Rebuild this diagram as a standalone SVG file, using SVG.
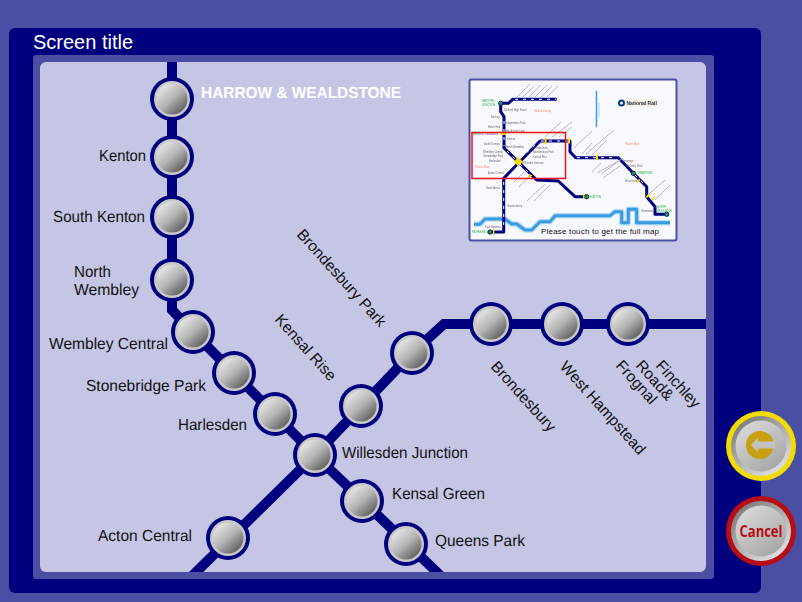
<svg xmlns="http://www.w3.org/2000/svg" width="802" height="602" viewBox="0 0 802 602">
<style>
.lbl{font:16px "Liberation Sans",Arial,sans-serif;fill:#111;text-rendering:geometricPrecision}
.rot{font:15.6px "Liberation Sans",Arial,sans-serif;fill:#111;text-rendering:geometricPrecision}
.line{fill:none;stroke:#00007f;stroke-width:10}
.m{font:2.6px "Liberation Sans",Arial,sans-serif;fill:#666}
.g{font:2.6px "Liberation Sans",Arial,sans-serif;fill:#22aa33}
.o{font:2.6px "Liberation Sans",Arial,sans-serif;fill:#f09060}
.ml{fill:none;stroke:#00007f;stroke-width:3;stroke-linejoin:round}
.riv{fill:none;stroke:#3a9be0;stroke-width:3;stroke-linejoin:round}
.rivg{fill:none;stroke:#b5dcf5;stroke-width:5.5;stroke-linejoin:round}
.tick{fill:none;stroke:#b0b0bc;stroke-width:.9}
.y{fill:#f5d800}
.gn{fill:#1f9a3a;stroke:#00007f;stroke-width:.8}
</style>
<defs>
<clipPath id="inner"><rect x="40" y="62" width="666" height="510"/></clipPath>
<linearGradient id="ball" x1="0.15" y1="0.1" x2="0.85" y2="0.9"><stop offset="0" stop-color="#e6e6e6"/><stop offset=".5" stop-color="#b4b4b4"/><stop offset="1" stop-color="#5e5e5e"/></linearGradient>
<linearGradient id="btn" x1="0.2" y1="0.1" x2="0.8" y2="0.9"><stop offset="0" stop-color="#d6d6d6"/><stop offset="1" stop-color="#a8a8a8"/></linearGradient>
<linearGradient id="btnrim" x1="0.2" y1="0.1" x2="0.8" y2="0.9"><stop offset="0" stop-color="#808080"/><stop offset="1" stop-color="#dedede"/></linearGradient>
<g id="st"><circle r="22" fill="#00007f"/><circle r="18" fill="#c9c9c9"/><circle r="15.5" fill="url(#ball)"/></g>
<filter id="soft" x="-5%" y="-5%" width="110%" height="110%"><feGaussianBlur stdDeviation="0.35"/></filter>
</defs>
<rect width="802" height="602" fill="#4a4fa3"/>
<rect x="9" y="28" width="752" height="565" rx="6" fill="#00007f"/>
<rect x="33" y="55" width="681" height="524" rx="3" fill="#4a4fa3"/>
<rect x="40" y="62" width="666" height="510" rx="6" fill="#c5c6e6"/>
<text x="33" y="49" style="font:20px 'Liberation Sans',Arial,sans-serif;fill:#fff">Screen title</text>
<g id="connectors" clip-path="url(#inner)">
<path class="line" d="M172 50V310L193 332L315 455L445 580"/>
<path class="line" d="M188 580L315 455L412 353L444 324H715"/>
</g>
<g id="harrow"><use href="#st" x="172" y="99"/><text x="201" y="98" textLength="200" lengthAdjust="spacingAndGlyphs" style="font:bold 16px 'Liberation Sans',Arial,sans-serif;fill:#fff;text-rendering:geometricPrecision">HARROW &amp; WEALDSTONE</text></g>
<g id="kenton"><use href="#st" x="172" y="157"/><text class="lbl" x="99" y="161" textLength="47" lengthAdjust="spacingAndGlyphs">Kenton</text></g>
<g id="south-kenton"><use href="#st" x="172" y="217"/><text class="lbl" x="53" y="222" textLength="92" lengthAdjust="spacingAndGlyphs">South Kenton</text></g>
<g id="north-wembley"><use href="#st" x="172" y="280"/><text class="lbl" x="74" y="277" textLength="37" lengthAdjust="spacingAndGlyphs">North</text><text class="lbl" x="74" y="295" textLength="65" lengthAdjust="spacingAndGlyphs">Wembley</text></g>
<g id="wembley-central"><use href="#st" x="193" y="332"/><text class="lbl" x="49" y="349" textLength="119" lengthAdjust="spacingAndGlyphs">Wembley Central</text></g>
<g id="stonebridge-park"><use href="#st" x="234" y="373"/><text class="lbl" x="86" y="391" textLength="120" lengthAdjust="spacingAndGlyphs">Stonebridge Park</text></g>
<g id="harlesden"><use href="#st" x="275" y="414"/><text class="lbl" x="178" y="430" textLength="69" lengthAdjust="spacingAndGlyphs">Harlesden</text></g>
<g id="willesden-junction"><use href="#st" x="315" y="455"/><text class="lbl" x="342" y="458" textLength="126" lengthAdjust="spacingAndGlyphs">Willesden Junction</text></g>
<g id="kensal-green"><use href="#st" x="362" y="501"/><text class="lbl" x="392" y="499" textLength="93" lengthAdjust="spacingAndGlyphs">Kensal Green</text></g>
<g id="queens-park"><use href="#st" x="406" y="544"/><text class="lbl" x="435" y="546" textLength="90" lengthAdjust="spacingAndGlyphs">Queens Park</text></g>
<g id="acton-central"><use href="#st" x="228" y="538"/><text class="lbl" x="98" y="541" textLength="94" lengthAdjust="spacingAndGlyphs">Acton Central</text></g>
<g id="kensal-rise"><use href="#st" x="361" y="406"/><text class="rot" transform="translate(274 320) rotate(48)">Kensal Rise</text></g>
<g id="brondesbury-park"><use href="#st" x="412" y="353"/><text class="rot" transform="translate(296 235) rotate(48)">Brondesbury Park</text></g>
<g id="brondesbury"><use href="#st" x="491" y="324"/><text class="rot" transform="translate(490 367) rotate(48)">Brondesbury</text></g>
<g id="west-hampstead"><use href="#st" x="562" y="324"/><text class="rot" transform="translate(559 367) rotate(48)">West Hampstead</text></g>
<g id="finchley-road"><use href="#st" x="628" y="324"/>
<text class="rot" transform="translate(655 366) rotate(48)">Finchley</text>
<text class="rot" transform="translate(635 366) rotate(48)">Road&amp;</text>
<text class="rot" transform="translate(615 366) rotate(48)">Frognal</text></g>
<g id="minimap">
<rect x="469.500" y="79.500" width="207" height="161" rx="2" fill="#f8f8ff" stroke="#4a4fa3" stroke-width="2"/>
<g filter="url(#soft)">
<path class="rivg" d="M474 224.300H480L485 219H505L511.700 224H516.700L525 230H531.700L540 221.700H550L555 215.700H610L615 211.700H621.700V222.700H628.300V209.300H636.700V222.700H670"/>
<path class="riv" d="M474 224.300H480L485 219H505L511.700 224H516.700L525 230H531.700L540 221.700H550L555 215.700H610L615 211.700H621.700V222.700H628.300V209.300H636.700V222.700H670"/>
<path d="M596.500 91V127" stroke="#3a9be0" stroke-width="1.500" fill="none"/>
<rect x="597.500" y="103" width="2.500" height="14" fill="#cfe6f8"/>
<path class="ml" d="M500.700 103.300H508.300L512.700 99.300H556.700"/>
<path class="ml" d="M500.700 103.300V111.700L504 116.700V148L536.700 180L558.300 181L575 196.700H586.700"/>
<path class="ml" d="M490 232H503.700V178.300L540 141H570V151.700L575.700 157.700H618.300L633.300 173.300L646.700 186.700V196.700L655 206.700V214.300H666.700"/>
<path d="M515 99.300H556M504 121V146M541 141H569M577 157.700H617M520 164L532 176M503.700 182V228M507 151L516 160M521 158L537 143M635 175L645 185" stroke="#fff" stroke-width="1" stroke-dasharray="3 5" fill="none"/>
<path class="tick" d="M517 97L530 84M523 97L534 86M529 97L541 85M535 97L547 85M541 97L552 86M547 97L558 86"/>
<path class="tick" d="M545 137L561 122M552 137L572 122M559 137L572 127"/>
<path class="tick" d="M574 148L592 131M582 154L592 143M586 154L614 130M592 155L607 140M592 172L601 163M597 173L620 160M601 174L623 158M603 178L620 166"/>
<path class="tick" d="M514 182L524 172M519 187L529 177M527 201L545 184M534 201L550 185M649 194L665 180M655 200L670 185"/>
<circle class="gn" cx="500.700" cy="103.300" r="2.200"/><circle class="gn" cx="490" cy="232" r="2.200"/><circle class="gn" cx="586.700" cy="196.700" r="2.200"/><circle class="gn" cx="633.300" cy="173.300" r="2.200"/><circle class="gn" cx="666.700" cy="214.300" r="2.200"/>
<path class="y" d="M501 132.500h5v2.500h-5zM544.500 138h2v6h-2zM568 138.500h2v5h-2zM596 155h2v5h-2zM583 194h1.500v5h-1.500zM493 229h1.500v6h-1.500zM530 174l2 1.500-3 3-2-1.500zM639 179l1.500 1-3 3-1.500-1zM648 194l2 1-3 3-1.500-1zM654 196l1.500 1-3 3-1.500-1z"/>
<path class="y" d="M518.300 157l4.500 4.700-4.500 4.700-4.500-4.700z"/>
<rect x="624.500" y="99" width="33" height="8" fill="#fbf3e0"/>
<circle cx="621.500" cy="103" r="3.500" fill="#00407f"/><circle cx="621.500" cy="103" r="1.500" fill="#f8f8ff"/>
<text x="626.500" y="105" style="font:bold 5px 'Liberation Sans',Arial,sans-serif;fill:#1a2a50">National Rail</text>
<text class="g" x="482" y="102">WATFORD</text><text class="g" x="482" y="105.500">JUNCTION</text>
<text class="m" x="504" y="110.500">Watford High Street</text><text class="o" x="534" y="111.500">Shuttle County</text>
<text class="m" x="491" y="118">Bushey</text><text class="m" x="506" y="123.500">Carpenders Park</text><text class="m" x="488" y="127.500">Hatch End</text><text class="m" x="506" y="132">Headstone Lane</text>
<text class="m" x="473" y="135">Harrow &amp; Wealdstone</text><text class="m" x="507" y="139.500">Kenton</text><text class="m" x="484" y="144.500">South Kenton</text><text class="m" x="506" y="148">North Wembley</text>
<text class="m" x="483" y="153">Wembley Central</text><text class="m" x="483" y="157">Stonebridge Park</text><text class="m" x="489" y="162">Harlesden</text>
<text class="m" x="533" y="148.500">Brondesbury</text><text class="m" x="533" y="153">Brondesbury Park</text><text class="m" x="533" y="157.500">Kensal Rise</text><text class="m" x="522" y="164">Willesden Junction</text>
<text class="o" x="475" y="167.500">Shuttle Main</text><text class="m" x="488" y="174">Acton Central</text><text class="m" x="486" y="188.500">South Acton</text><text class="m" x="507" y="207">Gunnersbury</text><text class="m" x="485" y="228">Kew Gardens</text>
<text class="g" x="472" y="233">RICHMOND</text><text class="g" x="590" y="198">EUSTON</text><text class="g" x="637" y="174">STRATFORD</text>
<text class="g" x="657" y="208">NORTH</text><text class="g" x="657" y="211.500">WOOLWICH</text>
<text class="o" x="625" y="145">Shuttle Main</text><text class="m" x="622" y="162">Homerton</text><text class="m" x="626" y="166.500">Hackney Wick</text><text class="m" x="625" y="182">West Ham</text><text class="m" x="641" y="211.500">Silvertown</text>
</g>
<text x="541" y="234" textLength="118" lengthAdjust="spacing" style="font:8px 'Liberation Sans',Arial,sans-serif;fill:#111">Please touch to get the full map</text>
<rect x="472" y="132.500" width="93.500" height="46" fill="none" stroke="#ee1111" stroke-width="1.500"/>
</g>
<g id="back-button">
<circle cx="761" cy="446" r="35" fill="#f2dc00"/><circle cx="761" cy="446" r="30" fill="url(#btnrim)"/><circle cx="761" cy="446" r="25.500" fill="url(#btn)"/>
<circle cx="760" cy="445" r="14" fill="#c9a012"/>
<path d="M751 445L758 437.500V441.500H775V448.500H758V452.500Z" fill="#c2c2c2"/>
</g>
<g id="cancel-button">
<circle cx="761" cy="531" r="35" fill="#b80d14"/><circle cx="761" cy="531" r="30" fill="url(#btnrim)"/><circle cx="761" cy="531" r="25.500" fill="url(#btn)"/>
<text x="761" y="536.500" text-anchor="middle" textLength="43" lengthAdjust="spacingAndGlyphs" style="font:bold 15.5px 'Open Sans',sans-serif;fill:#b80d14">Cancel</text>
</g>
</svg>
